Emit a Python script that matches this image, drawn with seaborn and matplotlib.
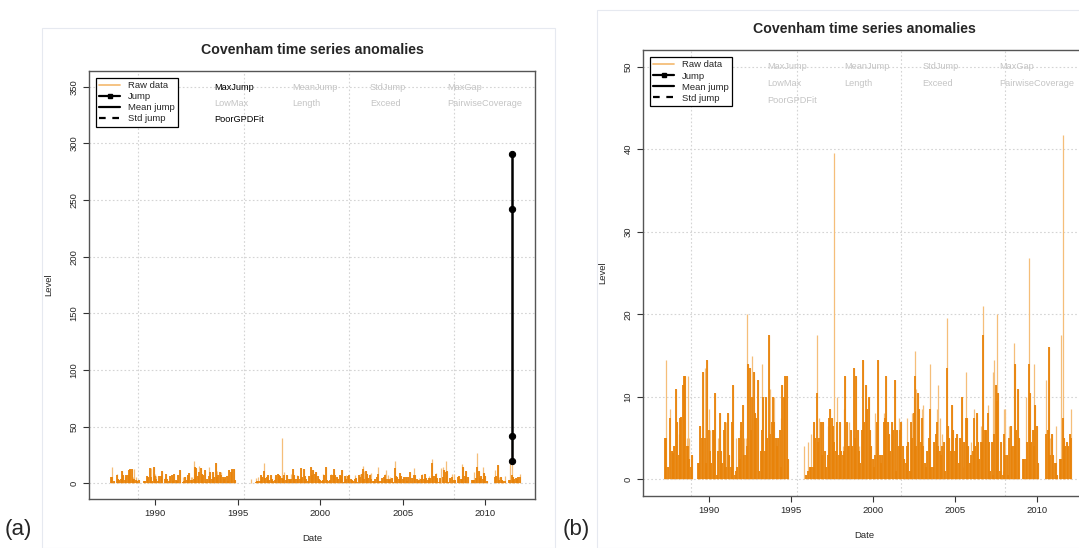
import numpy as np
import pandas as pd
import matplotlib
matplotlib.use('Agg')
import matplotlib.pyplot as plt
from matplotlib.lines import Line2D
from matplotlib.patches import Rectangle
import seaborn as sns

sns.set_style('white')
plt.rcParams['font.family'] = ['Liberation Sans', 'DejaVu Sans']

# ============================================================
# Data (monthly values, starting Jan 1987)
# ============================================================
nan = np.nan
start_year = 1987

# top of each spike (light tone)
peak = [
    0, 0, 0, 0, 5, 14.5, 1.5, 0, 8.5, 3.5, 3.2, 4,                      # 1987
    11, 7, 5.5, 7.5, 7.6, 11.5, 12.5, 12.5, 5, 12.5, 5, 2.5,            # 1988
    3, nan, nan, nan, 2, 2, 6.5, 5, 13, 13.5, 2, 14.5,                  # 1989
    8.5, 6, 2, 6, 6, 10.5, 0.5, 5, 8, 3.5, 2, 6,                        # 1990
    7, 7, 8, 3, 1.5, 7, 11.5, 0.5, 5, 1.5, 5, 6,                        # 1991
    7, 9, 5, 5, 20, 14, 13.5, 6, 15, 13, 8, 7.5,                        # 1992
    12, 1, 3.5, 14, 10, 3.5, 10, 5, 17.5, 11, 7, 10,                    # 1993
    10, 5, 4, 5, 6, 7.5, 11.5, 10, 12.5, 12.5, 2.5, nan,                # 1994
    nan, nan, nan, nan, nan, nan, nan, nan, nan, nan, 4, 0.5,           # 1995
    0, 4.5, 1.5, 5.5, 1.5, 7, 5, 17.5, 4.5, 7.5, 7, 3,                  # 1996
    7, 3.5, 1.5, 6.5, 7.5, 8.5, 7.5, 6.5, 39.5, 3.5, 10, 3,             # 1997
    7, 3.5, 4, 8.5, 12.5, 7, 4, 7, 6, 4, 13.5, 5,                       # 1998
    12.5, 6, 4, 2, 6, 14.5, 7, 11.5, 8.5, 10, 6, 4,                     # 1999
    2.5, 1.5, 8, 7, 14.5, 3, 2, 3, 8, 7.5, 12.5, 7,                     # 2000
    5.5, 3.5, 7, 6, 12, 1, 6, 7.5, 6, 7, 4, 2.5,                        # 2001
    2, 7.5, 4.5, 1, 7, 8, 10, 15.5, 11, 10.5, 8.5, 4.5,                 # 2002
    8.5, 9, 2, 1.5, 3.5, 5, 14, 1.5, 1.5, 4.5, 5.5, 8.5,                # 2003
    11.5, 7.5, 3, 5.5, 4.5, 1, 19.5, 6.5, 5, 3.5, 9, 6,                 # 2004
    3.5, 5, 5.5, 2, 5, 10, 1.5, 4.5, 13, 7.5, 4, 2,                     # 2005
    4.5, 3.5, 8.5, 4, 8, 4.5, 2.5, 6.5, 4.5, 21, 6, 6,                  # 2006
    9, 4.5, 1, 4.5, 13, 14.5, 11.5, 20, 10.5, 1, 4.5, 1,                # 2007
    8.5, 8.5, 3, 0.5, 6.5, 6.5, 4, 16.5, 14, 6, 11, 5,                  # 2008
    0, nan, 2.5, 2.5, 10, 4.5, 26.8, 10.5, 4.5, 6, 14, 9,               # 2009
    6.5, 2, nan, nan, nan, nan, nan, 12, 6, 16, 5, 5.5,                 # 2010
    3, 2, 6.5, 0.5, 0, 2.5, 17.5, 41.7, 5, 4, 4.5, 4,                   # 2011
    5.5, 8.5,                                                           # 2012
]

# height reached by the dense (dark) part of each month
level = [
    0, 0, 0, 0, 5, 5, 1.5, 0, 7.5, 3.5, 3.2, 4,
    11, 7, 3, 7.5, 7.6, 11.5, 12.5, 12.5, 4, 4, 2.5, 1.5,
    3, nan, nan, nan, 2, 2, 6.5, 5, 13, 5, 2, 14.5,
    6, 3.5, 2, 6, 6, 10.5, 0.5, 3.5, 8, 3.5, 2, 6,
    7, 1.5, 8, 3, 1.5, 7, 11.5, 0.5, 1, 1.5, 5, 2.5,
    7, 9, 3, 3, 4, 14, 13.5, 6, 10, 13, 8, 7.5,
    12, 1, 3.5, 6, 10, 3.5, 10, 5, 17.5, 5.5, 7, 10,
    7, 5, 4, 5, 6, 1.5, 11.5, 10, 12.5, 12.5, 2.5, nan,
    nan, nan, nan, nan, nan, nan, nan, nan, nan, nan, 0, 0.5,
    0, 1, 1.5, 1.5, 1.5, 7, 5, 10.5, 4.5, 5, 7, 3,
    7, 3.5, 1.5, 3, 7.5, 8.5, 7.5, 6.5, 4.5, 3.5, 7, 3,
    7, 3.5, 3, 3.5, 12.5, 7, 4, 4, 6, 4, 13.5, 5,
    12.5, 6, 3.5, 2, 6, 14.5, 7, 11.5, 8.5, 10, 6, 4,
    2.5, 1.5, 3, 7, 14.5, 3, 2, 3, 7, 7.5, 12.5, 7,
    5.5, 3.5, 7, 6, 12, 1, 6, 4, 6, 7, 4, 2.5,
    2, 4, 4.5, 1, 7, 5, 8, 12.5, 4, 10.5, 8.5, 4.5,
    7.5, 4, 2, 1.5, 3.5, 5, 8.5, 1.5, 1.5, 4.5, 5.5, 7,
    4, 3.5, 3, 4, 4.5, 1, 13.5, 6.5, 5, 3.5, 9, 6,
    3.5, 5, 5.5, 2, 5, 10, 0, 4.5, 7.5, 7.5, 4, 2,
    3, 3.5, 7.5, 4, 8, 4.5, 2.5, 4.5, 4.5, 17.5, 6, 6,
    8, 4.5, 1, 4.5, 0.5, 5.5, 11.5, 9.5, 10.5, 1, 4.5, 0.5,
    5.5, 3, 3, 0.5, 5, 6.5, 4, 4, 14, 6, 11, 5,
    0, nan, 2.5, 2.5, 2.5, 4.5, 14, 10.5, 4.5, 6, 4, 9,
    6.5, 2, nan, nan, nan, nan, nan, 5.5, 6, 16, 3, 5.5,
    3, 2, 2, 0.5, 0, 2.5, 2.5, 7.5, 5, 4, 4.5, 4,
    5.5, 5,
]

jump_year = 2011.62
jump_levels = [19.4, 41.3, 242, 291]

flag_rows = [['MaxJump', 'MeanJump', 'StdJump', 'MaxGap'],
             ['LowMax', 'Length', 'Exceed', 'PairwiseCoverage'],
             ['PoorGPDFit']]
active_a = ['MaxJump', 'PoorGPDFit']
active_b = []

df = pd.DataFrame({'year': start_year + np.arange(len(peak)) / 12.0,
                   'peak': peak, 'level': level}).dropna()

DARK = '#E8830A'
LIGHT = '#F5BE79'
GRID = '#d4d4d4'
GRAY_TXT = '#c4c4c4'

# ============================================================
# Figure
# ============================================================
fig = plt.figure(figsize=(10.79, 5.48), dpi=100)

# faint panel frames
fig.add_artist(Rectangle((42 / 1079, 0), 513 / 1079, 1 - 28 / 548,
                         transform=fig.transFigure, fill=False,
                         edgecolor='#e6e9f0', lw=0.8))
fig.add_artist(Rectangle((597 / 1079, 0), 490 / 1079, 1 - 10 / 548,
                         transform=fig.transFigure, fill=False,
                         edgecolor='#e6e9f0', lw=0.8))

ax_a = fig.add_axes([89 / 1079, 49 / 548, 446 / 1079, 428 / 548])
ax_b = fig.add_axes([643 / 1079, 52 / 548, 443 / 1079, 446 / 548])

grid_x = [1988.95, 1995.38, 2001.72, 2008.08]


def draw_panel(ax, ylim, yticks, active):
    for gx in grid_x:
        ax.axvline(gx, color=GRID, lw=0.8, ls=(0, (1.5, 2)), zorder=0)
    for gy in yticks:
        ax.axhline(gy, color=GRID, lw=0.8, ls=(0, (1.5, 2)), zorder=0)

    ax.vlines(df['year'], 0, df['peak'], color=LIGHT, lw=0.9, zorder=2)
    ax.vlines(df['year'], 0, df['level'], color=DARK, lw=1.3, zorder=3)

    ax.set_xlim(1986.0, 2013.0)
    ax.set_ylim(*ylim)
    ax.set_xticks([1990, 1995, 2000, 2005, 2010])
    ax.set_yticks(yticks)
    ax.tick_params(axis='both', direction='out', length=4.5, width=0.8,
                   color='#333333', labelsize=6.8, pad=3, left=True, bottom=True)
    for lab in ax.get_yticklabels():
        lab.set_rotation(90)
        lab.set_va('center')
    for sp in ax.spines.values():
        sp.set_color('#555555')
        sp.set_linewidth(1.0)

    ax.annotate('Covenham time series anomalies', xy=(0.5, 1), xycoords='axes fraction',
                xytext=(0, 15), textcoords='offset points', ha='center', va='center',
                fontsize=10.2, fontweight='bold')

    xs = [0.280, 0.455, 0.630, 0.804]
    ys = [0.962, 0.925, 0.887]
    for r, row in enumerate(flag_rows):
        for c, name in enumerate(row):
            ax.text(xs[c], ys[r], name, transform=ax.transAxes, ha='left', va='center',
                    fontsize=6.6, color='black' if name in active else GRAY_TXT)

    handles = [
        Line2D([], [], color=LIGHT, lw=1.3),
        Line2D([], [], color='black', lw=1.6, marker='s', ms=3),
        Line2D([], [], color='black', lw=1.6),
        Line2D([], [], color='black', lw=1.6, ls=(0, (3, 3))),
    ]
    leg = ax.legend(handles, ['Raw data', 'Jump', 'Mean jump', 'Std jump'],
                    loc='upper left', bbox_to_anchor=(0.016, 0.984), fontsize=6.8,
                    frameon=True, fancybox=False, framealpha=1, edgecolor='black',
                    handlelength=2.2, handletextpad=0.8, labelspacing=0.22,
                    borderpad=0.35, borderaxespad=0)
    leg.get_frame().set_linewidth(0.9)


draw_panel(ax_a, (-14, 364), [0, 50, 100, 150, 200, 250, 300, 350], active_a)
draw_panel(ax_b, (-2, 52), [0, 10, 20, 30, 40, 50], active_b)

jump_df = pd.DataFrame({'year': [jump_year] * len(jump_levels), 'level': jump_levels})
sns.lineplot(data=jump_df, x='year', y='level', ax=ax_a, sort=False, estimator=None,
             color='black', lw=1.8, marker='o', markersize=4.5, markeredgecolor='black',
             zorder=5)

for ax in (ax_a, ax_b):
    ax.set_xlabel('Date', fontsize=6.8, labelpad=11)
    ax.set_ylabel('Level', fontsize=6.8, labelpad=12)

fig.text(5 / 1079, 1 - 530 / 548, '(a)', fontsize=16, ha='left', va='center')
fig.text(563 / 1079, 1 - 530 / 548, '(b)', fontsize=16, ha='left', va='center')

plt.savefig('out.png', dpi=100)
plt.close()
